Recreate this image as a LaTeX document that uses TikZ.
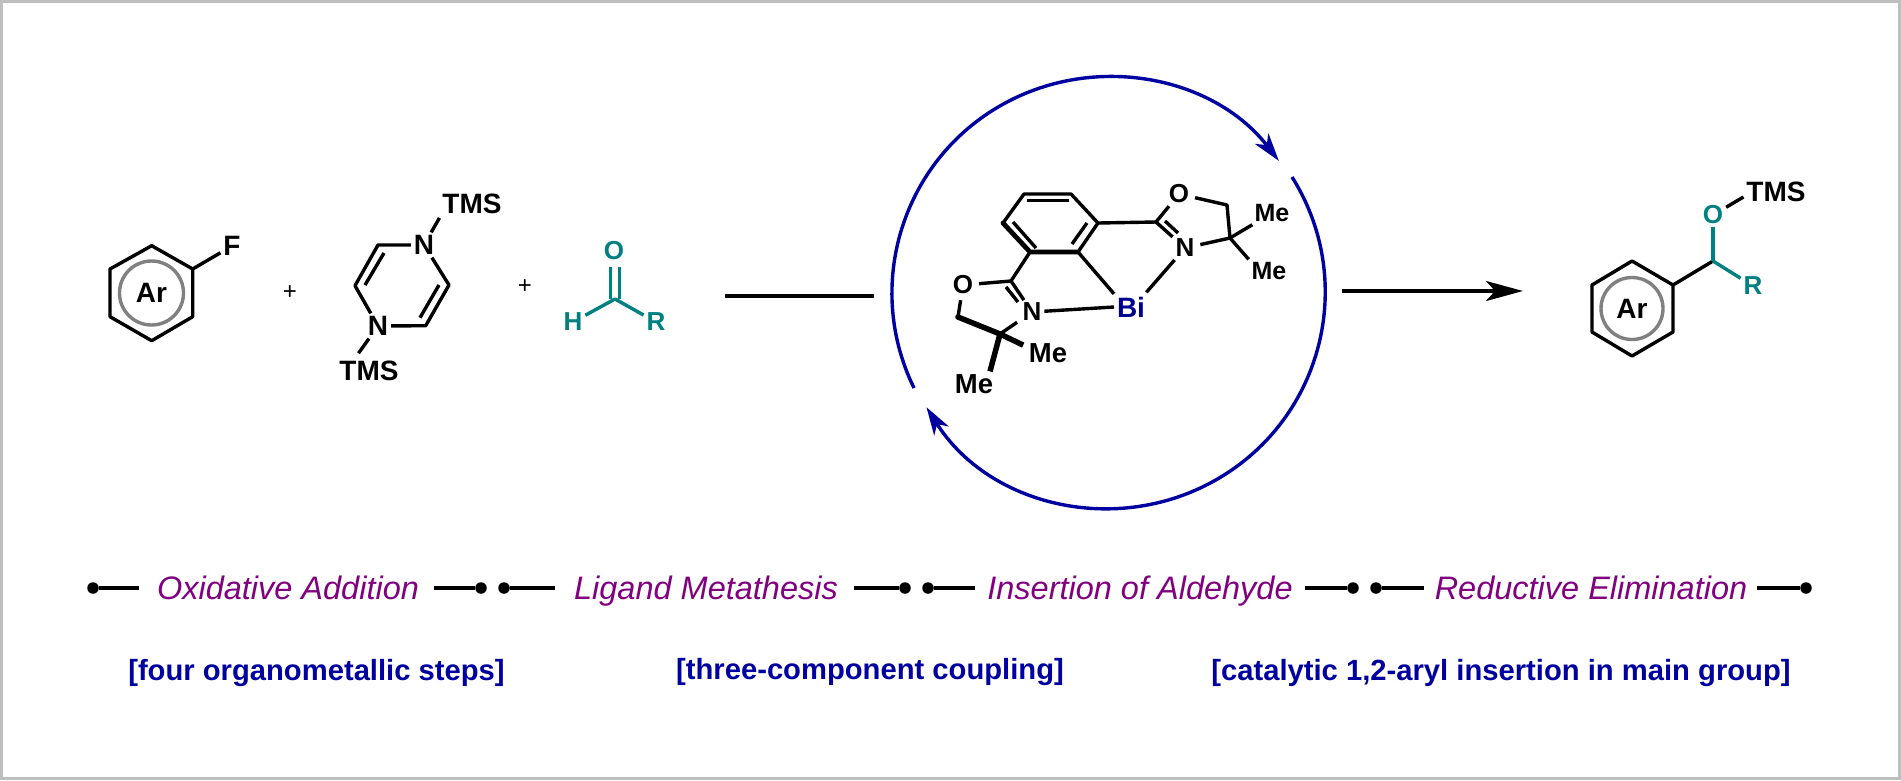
\documentclass[tikz,border=0pt]{standalone}
\usepackage{fontspec}
\setmainfont{Liberation Sans}
\usetikzlibrary{arrows.meta,calc}
\definecolor{cyc}{HTML}{0000A0}
\definecolor{tealc}{HTML}{008080}
\definecolor{purp}{HTML}{800080}
\definecolor{ringc}{HTML}{808080}
\definecolor{framec}{HTML}{BFBFBF}
\newcommand{\afs}[1]{\fontsize{#1}{#1}\selectfont\bfseries}
\tikzset{
  bond/.style={line width=3.4pt,line join=round,line cap=butt,black},
  thick bond/.style={bond,line width=5.5pt},
  tealbond/.style={bond,tealc},
  atom/.style={inner sep=0pt,outer sep=3pt,font=\afs{28}},
  small atom/.style={atom,font=\afs{26}},
  tealatom/.style={atom,font=\afs{26},text=tealc},
  ring/.style={draw=ringc,line width=3.4pt,circle,inner sep=0pt,minimum size=64pt,font=\afs{28}},
  cycle arc/.style={draw=cyc,line width=3.4pt},
  dot/.style={circle,fill=black,inner sep=0pt,minimum size=11.5pt},
  step label/.style={anchor=base,inner sep=0pt,text=purp,font=\fontsize{32.5}{34}\selectfont\itshape},
  note label/.style={anchor=base,inner sep=0pt,text=cyc,font=\fontsize{29.2}{31}\selectfont\bfseries},
  plus sign/.style={inner sep=0pt,font=\fontsize{24}{24}\selectfont},
  rule line/.style={line width=3.4pt,black},
}
\begin{document}
\begin{tikzpicture}[x=1pt,y=-1pt]
\useasboundingbox (0,0) rectangle (1901,780);
\fill[white] (0,0) rectangle (1901,780);
\draw[framec,line width=3pt] (1.5,1.5) rectangle (1899.5,778.5);

% aryl fluoride
\coordinate (a1) at (151.7,245.7); \coordinate (a2) at (192.7,269);
\coordinate (a3) at (192.7,316.7); \coordinate (a4) at (151.7,340.7);
\coordinate (a5) at (110,316.7);   \coordinate (a6) at (110,269);
\draw[bond] (a1)--(a2)--(a3)--(a4)--(a5)--(a6)--cycle;
\node[ring] (ar1) at (151.5,293) {Ar};
\node[atom] (F) at (232,246) {F};
\draw[bond] (a2)--(F);
\node[plus sign] (p1) at (290,292.5) {+};

% diazine
\node[atom] (N1) at (424,245) {N};
\node[atom] (N4) at (378,326) {N};
\node[atom] (T1) at (472,204) {TMS};
\node[atom] (T2) at (369,371) {TMS};
\coordinate (p2) at (378,245); \coordinate (p3) at (355,285.7);
\coordinate (p5) at (425.7,325.7); \coordinate (p6) at (449,285);
\coordinate (i1) at (384,253); \coordinate (i2) at (365,285);
\coordinate (i3) at (420,317.7); \coordinate (i4) at (439,285);
\draw[bond] (N1)--(p2)--(p3)--(N4);
\draw[bond] (N4)--(p5)--(p6)--(N1);
\draw[bond] (i1)--(i2);
\draw[bond] (i3)--(i4);
\draw[bond,shorten >=0pt] (N1)--([yshift=-1pt]T1.south west);
\draw[bond,shorten >=6pt] (N4)--([xshift=-14pt]T2.north);
\node[plus sign] (p7) at (525,286.5) {+};

% aldehyde
\node[tealatom] (Oa) at (614,251) {O};
\node[tealatom] (Ha) at (573,322) {H};
\node[tealatom] (Ra) at (656,322) {R};
\coordinate (Ca) at (615,299);
\coordinate (d1) at (610.7,299); \coordinate (d2) at (610.7,267);
\coordinate (d3) at (619.3,299); \coordinate (d4) at (619.3,267);
\draw[tealbond] (d1)--(d2);
\draw[tealbond] (d3)--(d4);
\draw[tealbond] (Ha)--(Ca)--(Ra);

% plain line into the cycle
\coordinate (l1) at (725,296); \coordinate (l2) at (874,296);
\draw[rule line] (l1)--(l2);

% catalytic cycle
\coordinate (k1) at (914,388); \coordinate (k2) at (1292,177);
\draw[cycle arc,-{Stealth[length=28pt,width=17pt,inset=8pt]}] (k1) arc[start angle=206.1,end angle=37.7,radius=216pt];
\draw[cycle arc,-{Stealth[length=28pt,width=17pt,inset=8pt]}] (k2) arc[start angle=32.2,end angle=-147.8,radius=216pt];

% catalyst
\coordinate (b1) at (1024,194); \coordinate (b2) at (1071,194);
\coordinate (b3) at (1098,223); \coordinate (b4) at (1078,252);
\coordinate (b5) at (1030,252); \coordinate (b6) at (1003,223);
\draw[bond] (b6)--(b1)--(b2)--(b3)--(b4);
\draw[bond,line width=4.8pt,line cap=round] (b4)--(b5)--(b6);
\coordinate (bi1) at (1027,200.7); \coordinate (bi2) at (1069,200.7);
\coordinate (bi3) at (1087,223);   \coordinate (bi4) at (1072,244);
\coordinate (bi5) at (1013,222);   \coordinate (bi6) at (1036,248);
\draw[bond] (bi1)--(bi2);
\draw[bond] (bi3)--(bi4);
\draw[bond] (bi5)--(bi6);
\node[atom,text=cyc!90!black] (Bi) at (1131,307) {Bi};
% upper oxazoline
\node[small atom] (O2) at (1179,194) {O};
\node[small atom] (N2) at (1185,248) {N};
\node[atom,font=\afs{25}] (Me1) at (1272,213) {Me};
\node[atom,font=\afs{25}] (Me2) at (1269,271) {Me};
\coordinate (c2) at (1156,222); \coordinate (c3) at (1227,205); \coordinate (c4) at (1230,238);
\coordinate (c5) at (1165,221); \coordinate (c6) at (1178,233);
\draw[bond] (b3)--(c2);
\draw[bond] (c2)--(N2);
\draw[bond] (c5)--(c6);
\draw[bond] (c2)--(O2);
\draw[bond,shorten <=3pt] (O2)--(c3)--(c4);
\draw[bond,shorten <=3pt] (N2)--(c4);
\draw[bond] (c4)--(Me1);
\draw[bond] (c4)--(Me2.north west);
\draw[bond,shorten >=2pt] (N2)--([xshift=-3pt]Bi.north east);
\draw[bond] (b4)--(Bi.north west);
% lower oxazoline
\node[small atom] (O3) at (963,285) {O};
\node[small atom] (N3) at (1032,312) {N};
\node[atom,font=\afs{27.5}] (Me3) at (1048,353) {Me};
\node[atom,font=\afs{27.5}] (Me4) at (974,384) {Me};
\coordinate (e1) at (1011,281); \coordinate (e2) at (958,317); \coordinate (e3) at (1000,334);
\coordinate (e4) at (1006,287); \coordinate (e5) at (1018,302);
\draw[bond] (b5)--(e1);
\draw[bond] (e1)--(N3);
\draw[bond] (e4)--(e5);
\draw[bond,shorten >=3pt] (e1)--(O3);
\draw[bond,shorten <=3pt] (O3)--(e2);
\draw[thick bond,line cap=round] (e2)--(e3);
\draw[bond,shorten <=3pt] (N3)--(e3);
\draw[thick bond,shorten >=3pt] (e3)--([yshift=-6pt]Me3.north west);
\draw[thick bond] (e3)--([xshift=16pt]Me4.north);
\draw[bond] (N3)--(Bi.west);

% reaction arrow
\coordinate (r1) at (1342,291); \coordinate (r2) at (1523,291);
\draw[rule line,-{Stealth[length=37pt,width=20pt,inset=9pt]}] (r1)--(r2);

% product
\coordinate (h1) at (1632,261); \coordinate (h2) at (1673,285);
\coordinate (h3) at (1673,332); \coordinate (h4) at (1632,356);
\coordinate (h5) at (1592,332); \coordinate (h6) at (1592,285);
\coordinate (Cp) at (1713,261);
\draw[bond] (h1)--(h2)--(h3)--(h4)--(h5)--(h6)--cycle;
\node[ring,minimum size=62pt] (ar2) at (1632,308.5) {Ar};
\node[tealatom] (Op) at (1713,215) {O};
\node[tealatom] (Rp) at (1753,286) {R};
\node[atom] (T3) at (1776,192) {TMS};
\draw[bond] (h2)--(Cp);
\draw[tealbond] (Cp)--(Op);
\draw[tealbond] (Cp)--(Rp);
\draw[bond] (Op)--([yshift=-5pt]T3.west);

% step labels
\node[dot] (s1a) at (93,588) {};
\node[dot] (s1b) at (481,588) {};
\node[step label] (s1) at (288,599) {Oxidative Addition};
\draw[rule line,shorten >=17.5pt] (s1a)--(s1a -| s1.west);
\draw[rule line,shorten <=15pt] (s1.east |- s1b)--(s1b);
\node[dot] (s2a) at (504,588) {};
\node[dot] (s2b) at (905,588) {};
\node[step label] (s2) at (706,599) {Ligand Metathesis};
\draw[rule line,shorten >=19pt] (s2a)--(s2a -| s2.west);
\draw[rule line,shorten <=16pt] (s2.east |- s2b)--(s2b);
\node[dot] (s3a) at (928,588) {};
\node[dot] (s3b) at (1353,588) {};
\node[step label] (s3) at (1140,599) {Insertion of Aldehyde};
\draw[rule line,shorten >=12pt] (s3a)--(s3a -| s3.west);
\draw[rule line,shorten <=12pt] (s3.east |- s3b)--(s3b);
\node[dot] (s4a) at (1376,588) {};
\node[dot] (s4b) at (1806,588) {};
\node[step label] (s4) at (1591,599) {Reductive Elimination};
\draw[rule line,shorten >=11pt] (s4a)--(s4a -| s4.west);
\draw[rule line,shorten <=10pt] (s4.east |- s4b)--(s4b);

% notes
\node[note label] (n1) at (316.5,680) {[four organometallic steps]};
\node[note label] (n2) at (870,679) {[three-component coupling]};
\node[note label] (n3) at (1501,680) {[catalytic 1,2-aryl insertion in main group]};
\end{tikzpicture}
\end{document}
